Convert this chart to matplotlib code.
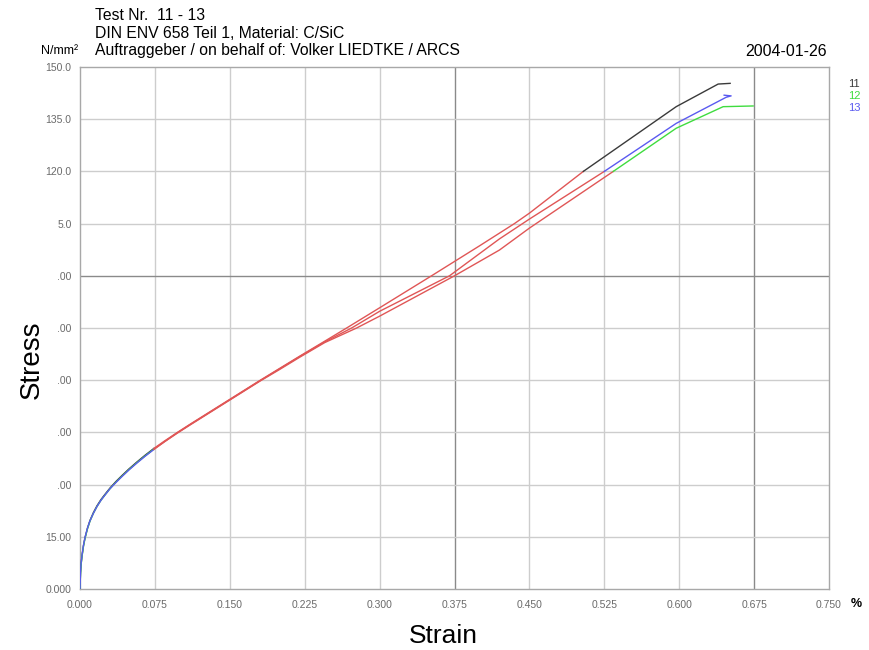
import numpy as np
import matplotlib
matplotlib.use("Agg")
import matplotlib.pyplot as plt

plt.rcParams['font.family'] = ['Liberation Sans', 'DejaVu Sans']

# Stress-strain curves, specimens 11-13 (strain in %, stress in N/mm²)
strain_11 = [0.000, 0.0005, 0.001, 0.002, 0.0035, 0.005, 0.0075, 0.010, 0.0135, 0.017,
             0.021, 0.025, 0.030, 0.036, 0.042, 0.049, 0.057, 0.065, 0.074, 0.085,
             0.097, 0.110, 0.125, 0.140, 0.155, 0.170, 0.180, 0.200, 0.220, 0.245,
             0.267, 0.300, 0.352, 0.400, 0.435, 0.450, 0.504,
             0.550, 0.597, 0.639, 0.651]
stress_11 = [0.0, 4.6, 6.9, 9.5, 12.5, 14.7, 17.5, 19.7, 22.0, 23.9,
             25.7, 27.2, 29.0, 30.9, 32.6, 34.5, 36.5, 38.4, 40.4, 42.6,
             44.9, 47.3, 50.0, 52.7, 55.4, 58.1, 59.9, 63.4, 66.9, 71.2,
             75.0, 80.8, 90.0, 98.6, 105.0, 108.0, 120.0,
             129.2, 138.6, 145.1, 145.3]

strain_12 = [0.000, 0.0005, 0.001, 0.002, 0.0035, 0.005, 0.0075, 0.010, 0.0135, 0.017,
             0.021, 0.025, 0.030, 0.036, 0.042, 0.049, 0.057, 0.065, 0.074, 0.085,
             0.097, 0.110, 0.125, 0.140, 0.155, 0.170, 0.180, 0.200, 0.220, 0.245,
             0.277, 0.300, 0.375, 0.420, 0.450, 0.534,
             0.565, 0.597, 0.644, 0.674]
stress_12 = [0.0, 4.4, 6.7, 9.3, 12.3, 14.5, 17.3, 19.5, 21.8, 23.7,
             25.5, 27.0, 28.8, 30.7, 32.4, 34.3, 36.3, 38.2, 40.2, 42.4,
             44.7, 47.1, 49.8, 52.5, 55.2, 57.9, 59.7, 63.1, 66.6, 70.8,
             75.0, 78.4, 90.0, 97.4, 103.7, 120.0,
             126.1, 132.4, 138.6, 138.8]

strain_13 = [0.000, 0.0005, 0.001, 0.002, 0.0035, 0.005, 0.0075, 0.010, 0.0135, 0.017,
             0.021, 0.025, 0.030, 0.036, 0.042, 0.049, 0.057, 0.065, 0.074, 0.085,
             0.097, 0.110, 0.125, 0.140, 0.155, 0.170, 0.180, 0.200, 0.220, 0.245,
             0.272, 0.300, 0.370, 0.420, 0.450, 0.525,
             0.560, 0.597, 0.647, 0.652, 0.645]
stress_13 = [0.0, 4.8, 7.1, 9.7, 12.6, 14.8, 17.5, 19.6, 21.8, 23.7,
             25.5, 27.0, 28.8, 30.6, 32.3, 34.2, 36.2, 38.1, 40.1, 42.4,
             44.8, 47.2, 49.9, 52.6, 55.3, 58.0, 59.8, 63.3, 66.8, 71.0,
             75.0, 79.8, 90.0, 100.6, 106.3, 120.0,
             126.7, 133.8, 141.3, 141.7, 141.9]

# Strain window evaluated for the modulus (drawn in red)
fit_window_11 = (0.074, 0.504)
fit_window_12 = (0.074, 0.534)
fit_window_13 = (0.074, 0.525)

specimen_labels = ["11", "12", "13"]
specimen_colors = ["#3a3a3a", "#3fdc3f", "#5a5af0"]
fit_color = "#e05656"

x_ticks = [0.000, 0.075, 0.150, 0.225, 0.300, 0.375, 0.450, 0.525, 0.600, 0.675, 0.750]
x_tick_labels = ["0.000", "0.075", "0.150", "0.225", "0.300", "0.375",
                 "0.450", "0.525", "0.600", "0.675", "0.750"]
y_ticks = [0, 15, 30, 45, 60, 75, 90, 105, 120, 135, 150]
y_tick_labels = ["0.000", "15.00", ".00", ".00", ".00", ".00", ".00",
                 "5.0", "120.0", "135.0", "150.0"]

W, H = 869, 650
fig = plt.figure(figsize=(W / 100, H / 100), dpi=100)
ax = fig.add_axes([80 / W, 1 - 589 / H, (829 - 80) / W, (589 - 67) / H])
ax.set_xlim(0, 0.75)
ax.set_ylim(0, 150)

# grid: light lines with a few emphasised ones
dark_x = {0.375, 0.675}
dark_y = {90}
for xv in x_ticks[1:-1]:
    ax.axvline(xv, color="#8a8a8a" if xv in dark_x else "#cdcdcd", lw=1.0, zorder=0)
for yv in y_ticks[1:-1]:
    ax.axhline(yv, color="#8a8a8a" if yv in dark_y else "#cdcdcd", lw=1.0, zorder=0)
for s in ax.spines.values():
    s.set_color("#a8a8a8")
    s.set_linewidth(1.0)

ax.set_xticks(x_ticks)
ax.set_xticklabels(x_tick_labels)
ax.set_yticks(y_ticks)
ax.set_yticklabels(y_tick_labels)
ax.tick_params(length=0, labelsize=7.5, labelcolor="#6a6a6a")
ax.tick_params(axis="x", pad=8)
ax.tick_params(axis="y", pad=6)

curves = [(strain_11, stress_11, fit_window_11),
          (strain_12, stress_12, fit_window_12),
          (strain_13, stress_13, fit_window_13)]
for (x, y, (lo, hi)), col in zip(curves, specimen_colors):
    x = np.asarray(x)
    y = np.asarray(y)
    i_lo = int(np.argmin(np.abs(x - lo)))
    i_hi = int(np.argmin(np.abs(x - hi)))
    ax.plot(x[:i_lo + 1], y[:i_lo + 1], color=col, lw=1.0, zorder=3)
    ax.plot(x[i_lo:i_hi + 1], y[i_lo:i_hi + 1], color=fit_color, lw=1.0, zorder=3)
    ax.plot(x[i_hi:], y[i_hi:], color=col, lw=1.0, zorder=3)

# specimen key on the right
for k, (lab, col) in enumerate(zip(specimen_labels, specimen_colors)):
    fig.text(848 / W, 1 - (84 + 12 * k) / H, lab, color=col, fontsize=8,
             ha="left", va="center")

# header
fig.text(95 / W, 1 - 15.5 / H, "Test Nr.  11 - 13", fontsize=11.3, va="center", ha="left")
fig.text(95 / W, 1 - 33 / H, "DIN ENV 658 Teil 1, Material: C/SiC", fontsize=11.3,
         va="center", ha="left")
fig.text(95 / W, 1 - 51 / H, "Auftraggeber / on behalf of: Volker LIEDTKE / ARCS",
         fontsize=11.3, va="center", ha="left")
fig.text(78 / W, 1 - 51 / H, "N/mm²", fontsize=9, va="center", ha="right")
fig.text(827 / W, 1 - 51 / H, "2004-01-26", fontsize=11.5, va="center", ha="right")
fig.text(851 / W, 1 - 604 / H, "%", fontsize=9, fontweight="bold", va="center", ha="left")

fig.text(443 / W, 1 - 636 / H, "Strain", fontsize=19, va="center", ha="center")
fig.text(32 / W, 1 - 360 / H, "Stress", fontsize=20, va="center", ha="center",
         rotation=90)

fig.savefig("out.png", dpi=100)
